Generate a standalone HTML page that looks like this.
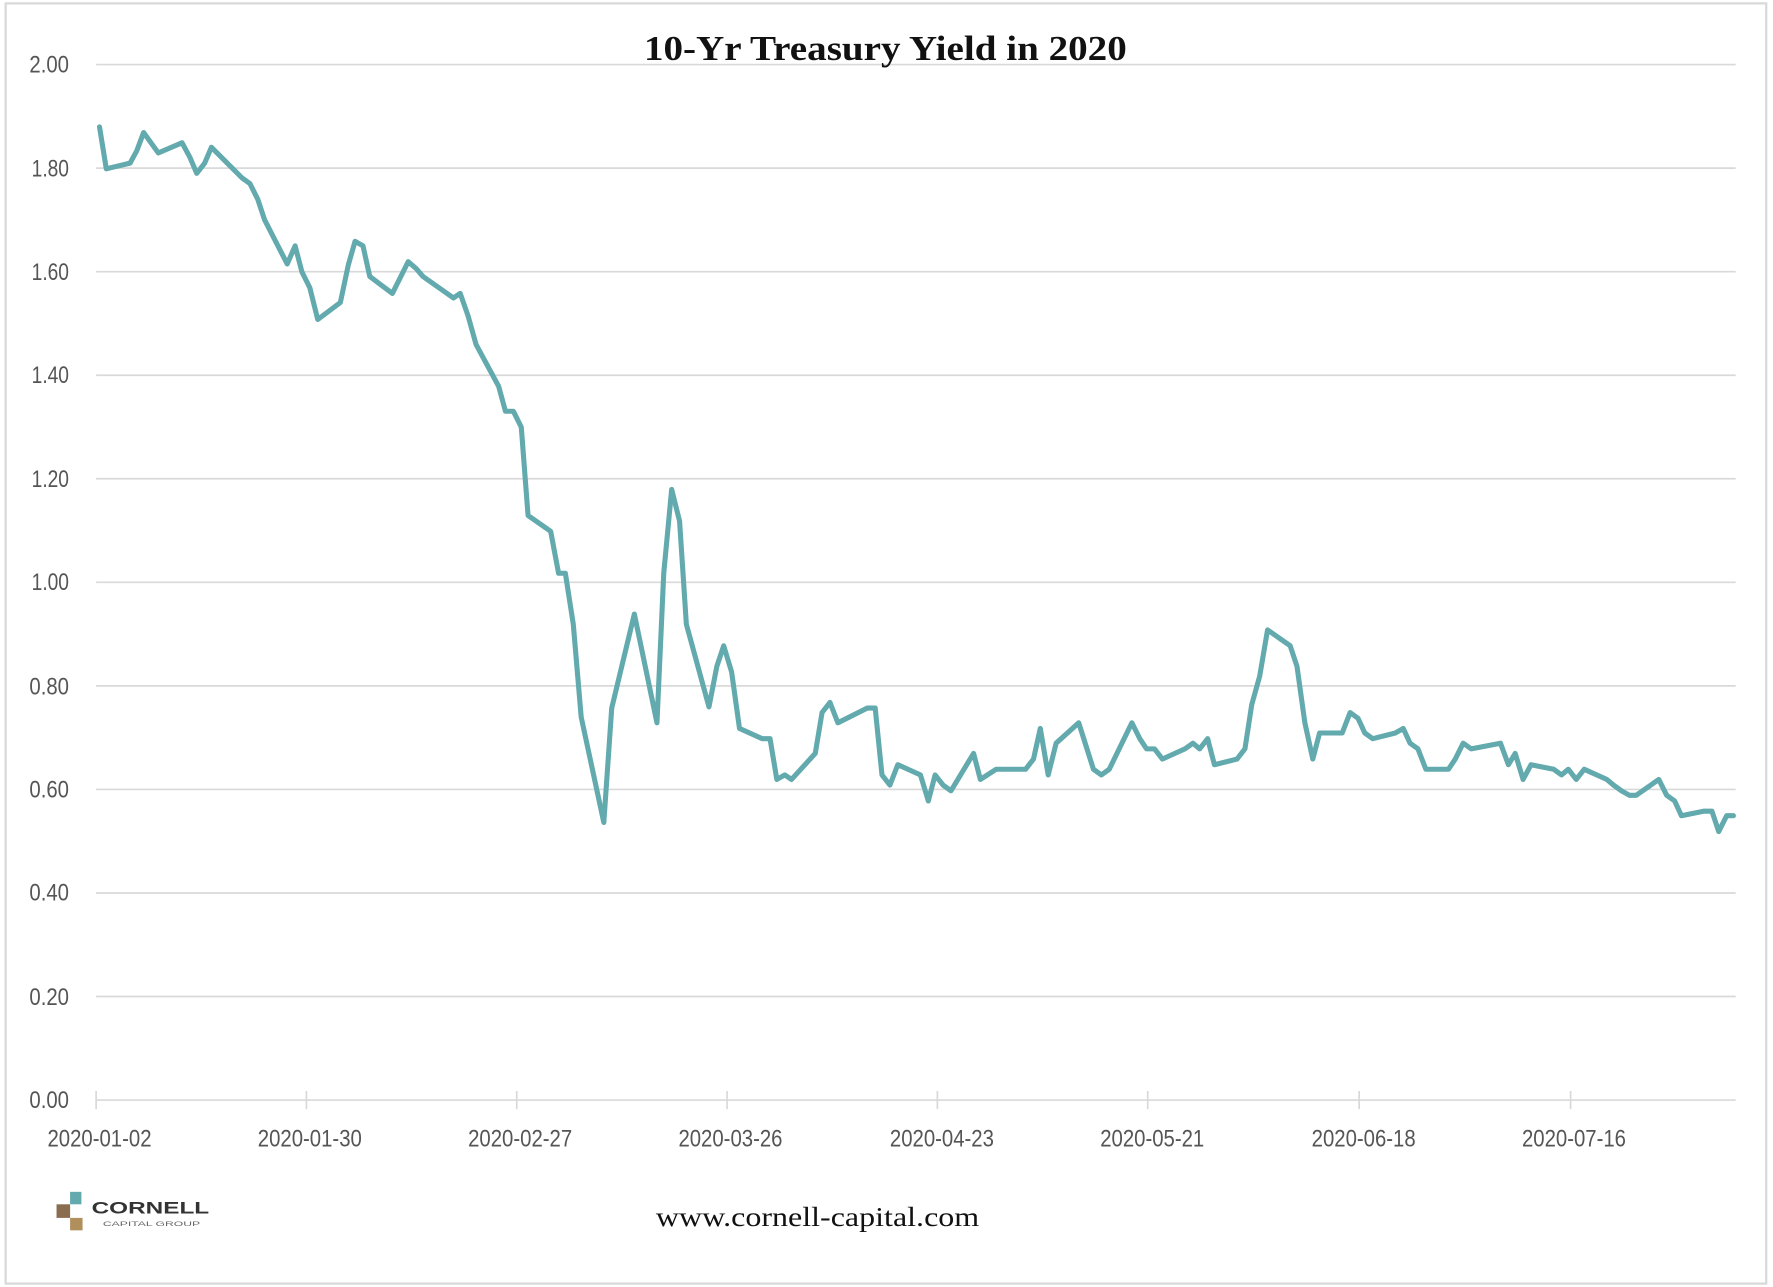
<!DOCTYPE html>
<html><head><meta charset="utf-8"><style>
html,body{margin:0;padding:0;background:#fff;}
svg{display:block;}
</style></head><body>
<svg width="1773" height="1287" viewBox="0 0 1568 1136" preserveAspectRatio="none" xmlns="http://www.w3.org/2000/svg">
<rect x="0" y="0" width="1568" height="1136" fill="#fff"/>
<rect x="5" y="3" width="1557" height="1130" fill="none" stroke="#d9d9d9" stroke-width="2"/>
<g stroke="#d9d9d9" stroke-width="1.5">
<line x1="85" x2="1535" y1="57" y2="57"/>
<line x1="85" x2="1535" y1="148.4" y2="148.4"/>
<line x1="85" x2="1535" y1="239.8" y2="239.8"/>
<line x1="85" x2="1535" y1="331.2" y2="331.2"/>
<line x1="85" x2="1535" y1="422.6" y2="422.6"/>
<line x1="85" x2="1535" y1="514" y2="514"/>
<line x1="85" x2="1535" y1="605.4" y2="605.4"/>
<line x1="85" x2="1535" y1="696.8" y2="696.8"/>
<line x1="85" x2="1535" y1="788.2" y2="788.2"/>
<line x1="85" x2="1535" y1="879.6" y2="879.6"/>
<line x1="85" x2="1535" y1="971" y2="971"/>
<line x1="85" x2="85" y1="963" y2="979"/>
<line x1="271" x2="271" y1="963" y2="979"/>
<line x1="457" x2="457" y1="963" y2="979"/>
<line x1="643" x2="643" y1="963" y2="979"/>
<line x1="829" x2="829" y1="963" y2="979"/>
<line x1="1015" x2="1015" y1="963" y2="979"/>
<line x1="1202" x2="1202" y1="963" y2="979"/>
<line x1="1389" x2="1389" y1="963" y2="979"/>
</g>
<g font-family="Liberation Sans, sans-serif" font-size="21" fill="#555" text-anchor="end">
<text x="61" y="64" textLength="35" lengthAdjust="spacingAndGlyphs">2.00</text>
<text x="61" y="156" textLength="33" lengthAdjust="spacingAndGlyphs">1.80</text>
<text x="61" y="247" textLength="33" lengthAdjust="spacingAndGlyphs">1.60</text>
<text x="61" y="338" textLength="33" lengthAdjust="spacingAndGlyphs">1.40</text>
<text x="61" y="430" textLength="33" lengthAdjust="spacingAndGlyphs">1.20</text>
<text x="61" y="521" textLength="33" lengthAdjust="spacingAndGlyphs">1.00</text>
<text x="61" y="613" textLength="35" lengthAdjust="spacingAndGlyphs">0.80</text>
<text x="61" y="704" textLength="35" lengthAdjust="spacingAndGlyphs">0.60</text>
<text x="61" y="795" textLength="35" lengthAdjust="spacingAndGlyphs">0.40</text>
<text x="61" y="887" textLength="35" lengthAdjust="spacingAndGlyphs">0.20</text>
<text x="61" y="978" textLength="35" lengthAdjust="spacingAndGlyphs">0.00</text>
</g>
<g font-family="Liberation Sans, sans-serif" font-size="21" fill="#555" text-anchor="middle">
<text x="88" y="1012" textLength="92" lengthAdjust="spacingAndGlyphs">2020-01-02</text>
<text x="274" y="1012" textLength="92" lengthAdjust="spacingAndGlyphs">2020-01-30</text>
<text x="460" y="1012" textLength="92" lengthAdjust="spacingAndGlyphs">2020-02-27</text>
<text x="646" y="1012" textLength="92" lengthAdjust="spacingAndGlyphs">2020-03-26</text>
<text x="833" y="1012" textLength="92" lengthAdjust="spacingAndGlyphs">2020-04-23</text>
<text x="1019" y="1012" textLength="92" lengthAdjust="spacingAndGlyphs">2020-05-21</text>
<text x="1206" y="1012" textLength="92" lengthAdjust="spacingAndGlyphs">2020-06-18</text>
<text x="1392" y="1012" textLength="92" lengthAdjust="spacingAndGlyphs">2020-07-16</text>
</g>
<text x="783" y="53" text-anchor="middle" font-family="Liberation Serif, serif" font-weight="bold" font-size="31" fill="#111" textLength="427" lengthAdjust="spacingAndGlyphs">10-Yr Treasury Yield in 2020</text>
<polyline fill="none" stroke="#62aaad" stroke-width="4.5" stroke-linejoin="round" stroke-linecap="round" points="88,112 94,149 115,144 121,133 127,117 140,135 161,126 168,139 174,153 181,144 187,130 207,150 214,157 221,162 228,176 234,194 254,233 261,217 267,240 274,254 281,282 301,267 308,234 314,213 321,217 327,244 347,259 361,231 368,237 374,244 401,263 407,259 414,279 421,304 441,341 447,363 454,363 461,377 467,455 487,469 494,506 500,506 507,551 514,633 534,726 541,625 561,542 581,638 587,506 594,432 601,460 607,551 627,624 634,588 640,570 647,593 654,643 674,652 681,652 687,688 694,684 700,688 721,665 727,629 734,620 741,638 767,625 774,625 780,684 787,693 794,675 814,684 821,707 827,684 834,693 841,698 861,665 867,688 881,679 907,679 914,670 920,643 927,684 934,656 954,638 967,679 974,684 981,679 1001,638 1008,652 1014,661 1021,661 1028,670 1048,661 1055,656 1061,661 1068,652 1074,675 1094,670 1101,661 1107,622 1114,597 1121,556 1141,570 1147,588 1154,638 1161,670 1167,647 1187,647 1194,629 1201,634 1207,647 1214,652 1234,647 1241,643 1247,656 1254,661 1261,679 1281,679 1287,670 1294,656 1301,661 1327,656 1334,675 1340,665 1347,688 1354,675 1374,679 1381,684 1387,679 1394,688 1401,679 1421,688 1427,693 1434,698 1441,702 1447,702 1467,688 1474,702 1481,707 1487,720 1507,716 1514,716 1520,734 1527,720 1533,720"/>
<rect x="62" y="1052" width="10" height="11" fill="#62aaad"/>
<rect x="50" y="1063" width="12" height="12" fill="#8a6d4f"/>
<rect x="62" y="1075" width="11" height="11" fill="#b08f5c"/>
<text x="81" y="1071" font-family="Liberation Sans, sans-serif" font-weight="bold" font-size="15" fill="#333" textLength="104" lengthAdjust="spacingAndGlyphs">CORNELL</text>
<text x="91" y="1082" font-family="Liberation Sans, sans-serif" font-size="6" fill="#666" textLength="86" lengthAdjust="spacingAndGlyphs">CAPITAL GROUP</text>
<text x="723" y="1082" text-anchor="middle" font-family="Liberation Serif, serif" font-size="24" fill="#111" textLength="286" lengthAdjust="spacingAndGlyphs">www.cornell-capital.com</text>
</svg>
</body></html>
